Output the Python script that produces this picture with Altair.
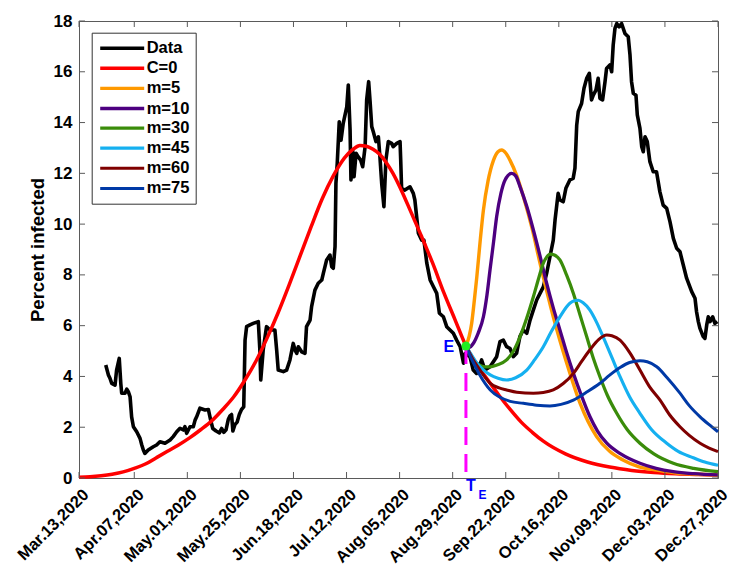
import altair as alt
import pandas as pd

START = pd.Timestamp("2020-03-13")

# Observed prevalence: day offset from Mar 13, 2020 and percent infected
obs_day = [12.1, 13.3, 14.0, 14.8, 16.3, 17.0, 18.2, 18.9, 19.3, 20.8, 21.6, 22.3, 23.1, 23.8,
           24.6, 26.1, 27.6, 28.4, 29.1, 29.8, 31.3, 33.6, 35.1, 36.6, 38.9, 41.2, 42.6, 44.2,
           45.7, 47.2, 47.9, 48.7, 50.2, 51.7, 52.5, 53.2, 54.7, 57.0, 58.5, 59.5, 60.5, 62.0,
           63.5, 64.5, 65.5, 66.5, 67.5, 68.3, 69.0, 69.6, 70.5, 71.5, 72.5, 73.5, 74.5, 75.1,
           75.8, 77.3, 78.8, 81.1, 81.8, 82.2, 83.3, 84.8, 86.4, 88.6, 89.4, 90.1, 92.4, 93.9,
           95.4, 96.9, 97.7, 98.5, 99.2, 100.7, 102.2, 102.9, 104.5, 105.2, 106.7, 108.2, 109.8,
           110.5, 112.0, 113.5, 114.3, 115.0, 115.8, 116.2, 116.8, 117.7, 118.5, 119.5, 121.1,
           121.8, 122.6, 123.0, 123.8, 124.4, 125.3, 126.3, 127.4, 128.3, 129.4, 130.1, 131.0,
           131.6, 132.4, 133.1, 134.3, 135.4, 136.1, 136.9, 137.9, 138.8, 139.9, 141.4, 142.1,
           143.7, 145.2, 145.5, 145.9, 147.4, 149.7, 151.2, 151.9, 153.5, 155.0, 156.0, 157.3,
           158.8, 160.3, 161.8, 163.0, 164.8, 166.3, 167.8, 169.3, 170.8, 172.4, 173.9, 174.6,
           176.8, 178.3, 179.8, 182.1, 183.6, 185.9, 188.9, 190.4, 191.9, 193.4, 194.9, 196.4,
           197.9, 199.4, 200.9, 202.5, 204.0, 205.5, 207.0, 208.5, 210.0, 211.5, 213.0, 214.5,
           215.3, 216.7, 217.5, 219.0, 220.2, 222.0, 223.5, 224.3, 225.1, 225.8, 227.3, 228.4,
           229.6, 230.8, 231.8, 232.6, 233.8, 234.8, 235.6, 236.8, 237.9, 238.6, 240.1, 240.9,
           241.6, 242.4, 243.2, 244.3, 245.4, 246.9, 248.4, 249.2, 249.9, 250.7, 251.9, 252.5,
           253.7, 254.5, 255.2, 256.0, 257.0, 258.2, 259.7, 261.2, 262.7, 264.2, 265.8, 267.3,
           268.8, 270.3, 271.8, 273.3, 274.8, 277.1, 278.6, 279.3, 280.1, 280.8, 282.3, 283.1,
           283.9, 284.6, 285.4, 286.6, 287.6, 288.7]
obs_val = [4.45, 4.06, 3.93, 3.73, 3.66, 4.25, 4.71, 3.73, 3.34, 3.34, 3.5, 3.4, 3.2, 2.41,
           2.02, 1.82, 1.56, 1.3, 1.1, 0.97, 1.1, 1.23, 1.3, 1.43, 1.37, 1.5, 1.63, 1.82,
           1.96, 1.89, 2.02, 1.76, 2.02, 2.02, 2.28, 2.41, 2.75, 2.68, 2.7, 2.3, 1.95, 1.85,
           1.78, 1.95, 1.8, 1.9, 2.3, 2.45, 2.5, 1.85, 2.1, 2.2, 2.5, 2.7, 2.8, 5.43,
           5.96, 6.03, 6.09, 6.16, 5.04, 3.86, 5.04, 5.96, 5.83, 5.83, 5.04, 4.25, 4.19, 4.25,
           4.65, 5.3, 5.04, 4.91, 5.17, 4.97, 4.91, 5.96, 6.22, 6.75, 7.4, 7.67, 7.8,
           8.06, 8.59, 8.78, 8.32, 8.26, 9.11, 11.6, 12.4, 14.03, 13.3, 13.97, 14.62,
           15.48, 13.7, 11.74, 12.9, 11.87, 12.79, 12.65, 12.52, 12.26, 13.05, 14.89, 15.61,
           14.89, 13.84, 13.64, 13.25, 13.44, 12.65, 11.6, 10.69, 12.52, 13.25, 13.18, 13.05,
           13.18, 13.25, 12.52, 11.41, 11.34, 11.47, 11.21, 10.95, 9.64, 9.37, 9.37, 8.46,
           7.8, 7.53, 7.27, 6.49, 6.35, 5.96, 5.83, 5.7, 5.43, 5.17, 4.52, 4.9,
           4.78, 4.25, 4.12, 4.65, 4.25, 4.38, 4.78, 5.37, 5.43, 5.17, 5.11, 4.78,
           4.91, 5.57, 5.83, 5.7, 6.22, 6.62, 7.01, 7.27, 7.53, 8.06, 8.72, 9.37,
           10.16, 11.21, 10.95, 10.88, 11.41, 11.74, 11.8, 12.2, 13.9, 14.43, 14.75, 15.35,
           15.74, 15.94, 14.89, 15.08, 15.28, 15.74, 14.95, 14.89, 15.61, 16.13, 16.27, 16.0,
           17.05, 17.71, 17.9, 17.77, 17.9, 17.51, 17.38, 16.66, 15.61, 15.15, 15.08, 14.3,
           13.77, 13.05, 12.85, 13.44, 13.25, 12.46, 12.06, 12.06, 11.28, 10.75, 10.62, 10.09,
           9.44, 9.05, 8.91, 8.39, 7.87, 7.34, 7.08, 6.55, 6.16, 5.9, 5.57, 5.5,
           6.03, 6.35, 6.16, 6.35, 6.09, 6.16]

# Model without control (C=0)
c0_day = [0, 5, 10, 15, 20, 25, 30, 35, 40, 45, 50, 55, 60, 65, 70, 75, 80, 85, 90, 95, 100,
          105, 110, 115, 120, 124, 127, 130, 133, 136, 139, 142, 146.5, 150, 155, 160, 165, 170,
          175, 180, 185, 190, 195, 200, 205, 210, 220, 230, 240, 250, 260, 270, 280, 289]
c0_val = [0.03, 0.05, 0.09, 0.15, 0.24, 0.38, 0.55, 0.8, 1.05, 1.3, 1.58, 1.9, 2.25, 2.7,
          3.2, 3.85, 4.6, 5.5, 6.5, 7.6, 8.75, 9.9, 11.0, 11.9, 12.6, 12.95, 13.1, 13.07, 12.95,
          12.75, 12.42, 12.0, 11.2, 10.5, 9.5, 8.45, 7.3, 6.25, 5.2, 4.45, 3.85, 3.25, 2.7,
          2.2, 1.8, 1.45, 0.95, 0.63, 0.43, 0.3, 0.22, 0.17, 0.14, 0.12]

# Controlled scenarios, all starting from the switch point E
m5_day = [175, 176.5, 177.6, 178.8, 179.9, 181.4, 182.9, 185, 187.4, 189.5, 191.2, 193, 194.9,
          198, 201, 205, 208.5, 214.5, 220.6, 226.6, 234.1, 240, 246, 253, 261.3, 270, 280, 289]
m5_val = [5.2, 5.6, 6.1, 7.0, 7.9, 9.3, 10.55, 11.7, 12.5, 12.85, 12.92, 12.8, 12.52,
          11.9, 11.08, 9.8, 8.46, 6.35, 4.52, 2.95, 1.63, 1.05, 0.71, 0.45, 0.31, 0.2, 0.15, 0.12]

m10_day = [175, 176.5, 178.3, 180.5, 182.9, 184.5, 185.9, 187.5, 188.9, 190.8, 192.7, 195.7,
           197.5, 199.5, 202.5, 205.5, 208.5, 211.5, 214.5, 217.5, 220.5, 223.6, 227, 231.1,
           234.5, 238.7, 245, 253.7, 261, 268.8, 278, 289]
m10_val = [5.2, 5.15, 5.3, 5.7, 6.35, 7.2, 8.2, 9.3, 10.3, 11.2, 11.74, 12.0,
           11.9, 11.47, 10.7, 9.77, 8.75, 7.67, 6.7, 5.83, 4.95, 4.12, 3.3, 2.41,
           1.85, 1.37, 0.95, 0.58, 0.38, 0.25, 0.17, 0.12]

m30_day = [175, 178.3, 181, 183.5, 185.9, 189, 193.4, 196.5, 199.5, 202.5, 205.5, 208, 210,
           211.5, 213, 215, 217.5, 220.5, 223.6, 226.5, 229.6, 232.5, 235.6, 239, 243.2, 248,
           253.7, 260, 268.8, 278, 289]
m30_val = [5.2, 4.65, 4.45, 4.38, 4.38, 4.45, 4.65, 5.0, 5.57, 6.3, 7.14, 7.9, 8.46,
           8.7, 8.82, 8.78, 8.59, 8.0, 7.27, 6.45, 5.57, 4.75, 3.99, 3.25, 2.55, 1.9,
           1.37, 0.95, 0.58, 0.38, 0.25]

m45_day = [175, 177.5, 180, 183, 186, 189.5, 193.4, 197.5, 202.5, 206, 210, 213.5, 217.5, 222,
           224, 225.8, 228, 231, 234, 237, 241, 244.7, 249, 253.7, 259, 265.8, 271, 277.8,
           283, 289]
m45_val = [5.2, 4.85, 4.52, 4.25, 4.06, 3.93, 3.86, 3.95, 4.25, 4.65, 5.17, 5.75, 6.35, 6.88,
           6.98, 7.0, 6.9, 6.62, 6.15, 5.57, 4.75, 3.99, 3.2, 2.55, 1.9, 1.37, 1.05, 0.8,
           0.63, 0.5]

m60_day = [175, 178, 181, 186, 190, 193.4, 198, 205.5, 210, 214.5, 219, 223.6, 227, 231, 235,
           238.7, 241, 244.7, 249, 253.7, 258, 262.8, 267, 271.8, 276, 280.9, 285, 289]
m60_val = [5.2, 4.7, 4.3, 3.73, 3.55, 3.47, 3.38, 3.34, 3.37, 3.47, 3.72, 4.12, 4.55, 5.04, 5.45,
           5.63, 5.6, 5.43, 4.95, 4.25, 3.6, 3.07, 2.5, 2.02, 1.68, 1.37, 1.18, 1.04]

m75_day = [175, 178, 181, 186, 190, 195, 201, 207, 213, 218, 223.6, 229, 235.6, 240, 244.7,
           249, 253.7, 257, 261.3, 266, 271.8, 276, 280.9, 285, 289]
m75_val = [5.2, 4.6, 4.1, 3.47, 3.2, 3.02, 2.94, 2.87, 2.84, 2.9, 3.07, 3.35, 3.73, 4.05, 4.35,
           4.55, 4.62, 4.58, 4.38, 3.95, 3.34, 2.85, 2.41, 2.1, 1.82]

# Switch time T_E and the state at that moment
te_day = 175
te_val = 5.2

series_names = ["Data", "C=0", "m=5", "m=10", "m=30", "m=45", "m=60", "m=75"]
series_colors = ["#000000", "#ff0000", "#ff9900", "#4d0080", "#3a8c0a", "#15b0f0", "#7f0000", "#0039a6"]
series_widths = [3.6, 3, 3, 3, 3, 3, 3, 3]

tick_dates = [(2020, 3, 13), (2020, 4, 7), (2020, 5, 1), (2020, 5, 25), (2020, 6, 18),
              (2020, 7, 12), (2020, 8, 5), (2020, 8, 29), (2020, 9, 22), (2020, 10, 16),
              (2020, 11, 9), (2020, 12, 3), (2020, 12, 27)]
y_ticks = [0, 2, 4, 6, 8, 10, 12, 14, 16, 18]

W, H = 639, 457
FONT = "Liberation Sans"
FRAME = "#5a5a5a"


def to_dates(days):
    return [START + pd.to_timedelta(d, unit="D") for d in days]


def series_frame(name, days, vals):
    return pd.DataFrame({"date": to_dates(days), "value": vals, "series": name})


obs_df = series_frame("Data", obs_day, obs_val)
model_df = pd.concat([
    series_frame("C=0", c0_day, c0_val),
    series_frame("m=5", m5_day, m5_val),
    series_frame("m=10", m10_day, m10_val),
    series_frame("m=30", m30_day, m30_val),
    series_frame("m=45", m45_day, m45_val),
    series_frame("m=60", m60_day, m60_val),
    series_frame("m=75", m75_day, m75_val),
], ignore_index=True)

tick_df = pd.DataFrame({"date": [pd.Timestamp(y, m, d) for y, m, d in tick_dates]})
ytick_df = pd.DataFrame({"value": y_ticks})
te_df = pd.DataFrame({"date": to_dates([te_day]), "value": [te_val]})
te_base_df = pd.DataFrame({"date": to_dates([te_day]), "value": [0]})

x_scale = alt.Scale(domain=[alt.DateTime(year=2020, month=3, date=13),
                            alt.DateTime(year=2020, month=12, date=27)], nice=False)
y_scale = alt.Scale(domain=[0, 18], nice=False)

x_axis = alt.Axis(
    values=[alt.DateTime(year=y, month=m, date=d) for y, m, d in tick_dates],
    format="%b.%d,%Y", title=None, grid=False, ticks=False,
    labelAngle=-45, labelAlign="right", labelBaseline="top",
    labelPadding=8, labelOffset=1, labelFlush=False, labelOverlap=False,
    labelFont=FONT, labelFontSize=16.5, labelFontWeight="bold", labelColor="black",
    domainColor=FRAME, domainWidth=1,
)
y_axis = alt.Axis(
    values=y_ticks, title="Percent infected", grid=False, ticks=False,
    labelPadding=7, labelFont=FONT, labelFontSize=17, labelFontWeight="bold",
    labelColor="black", domainColor=FRAME, domainWidth=1,
    titleFont=FONT, titleFontSize=18.5, titleFontWeight="bold", titleColor="black",
    titleX=-35.5, titleY=H / 2, titleBaseline="alphabetic", titleAngle=270,
)

X = alt.X("date:T", scale=x_scale, axis=x_axis)
Y = alt.Y("value:Q", scale=y_scale, axis=y_axis)

legend = alt.Legend(
    title=None, orient="none", legendX=12.7, legendY=11.7,
    symbolType="M-3,0H3", symbolSize=215, symbolStrokeWidth=3, symbolOffset=15,
    labelOffset=15, labelFont=FONT, labelFontSize=16.5, labelFontWeight="bold",
    labelColor="black", labelLimit=200, padding=6, rowPadding=2.1,
    strokeColor="#333333", fillColor="white", cornerRadius=0,
)
color = alt.Color("series:N", scale=alt.Scale(domain=series_names, range=series_colors),
                  legend=legend)
width_enc = alt.StrokeWidth("series:N",
                            scale=alt.Scale(domain=series_names, range=series_widths),
                            legend=None)

data_line = alt.Chart(obs_df).mark_line(strokeJoin="round").encode(
    x=X, y=Y, color=color, strokeWidth=width_enc)

model_lines = alt.Chart(model_df).mark_line(interpolate="monotone").encode(
    x=X, y=Y, color=color, strokeWidth=width_enc,
    order=alt.Order("date:T"))

te_line = alt.Chart(te_df).mark_rule(color="#ff00ff", strokeWidth=3, strokeDash=[18, 9]).encode(
    x=X, y=Y, y2=alt.Y2(datum=0))

te_point = alt.Chart(te_df).mark_point(filled=True, size=80, color="#22ee22", opacity=1).encode(
    x=X, y=Y)

label_e = alt.Chart(te_df).mark_text(text="E", dx=-17, dy=1, font=FONT, fontSize=16,
                                     fontWeight="bold", color="#0000ff").encode(x=X, y=Y)
label_t = alt.Chart(te_base_df).mark_text(text="T", dx=5, dy=8, font=FONT, fontSize=16,
                                          fontWeight="bold", color="#0000ff").encode(x=X, y=Y)
label_t_sub = alt.Chart(te_base_df).mark_text(text="E", dx=16.5, dy=17, font=FONT, fontSize=12,
                                              fontWeight="bold", color="#0000ff").encode(x=X, y=Y)

# Inward tick marks on all four sides of the box
tick_style = dict(color=FRAME, strokeWidth=1)
xt_bottom = alt.Chart(tick_df).mark_rule(**tick_style).encode(
    x=X, y=alt.value(H - 6), y2=alt.value(H))
xt_top = alt.Chart(tick_df).mark_rule(**tick_style).encode(
    x=X, y=alt.value(0), y2=alt.value(6))
yt_left = alt.Chart(ytick_df).mark_rule(**tick_style).encode(
    y=Y, x=alt.value(0), x2=alt.value(6))
yt_right = alt.Chart(ytick_df).mark_rule(**tick_style).encode(
    y=Y, x=alt.value(W - 6), x2=alt.value(W))

chart = alt.layer(
    data_line, model_lines, te_line, te_point, label_e, label_t, label_t_sub,
    xt_bottom, xt_top, yt_left, yt_right,
).properties(
    width=W, height=H,
    autosize=alt.AutoSizeParams(type="none"),
    padding={"left": 79, "top": 21, "right": 11, "bottom": 88},
    background="white",
).configure_view(
    stroke=FRAME, strokeWidth=1,
)

chart.save("out.html", embed_options={"renderer": "svg", "actions": False})
